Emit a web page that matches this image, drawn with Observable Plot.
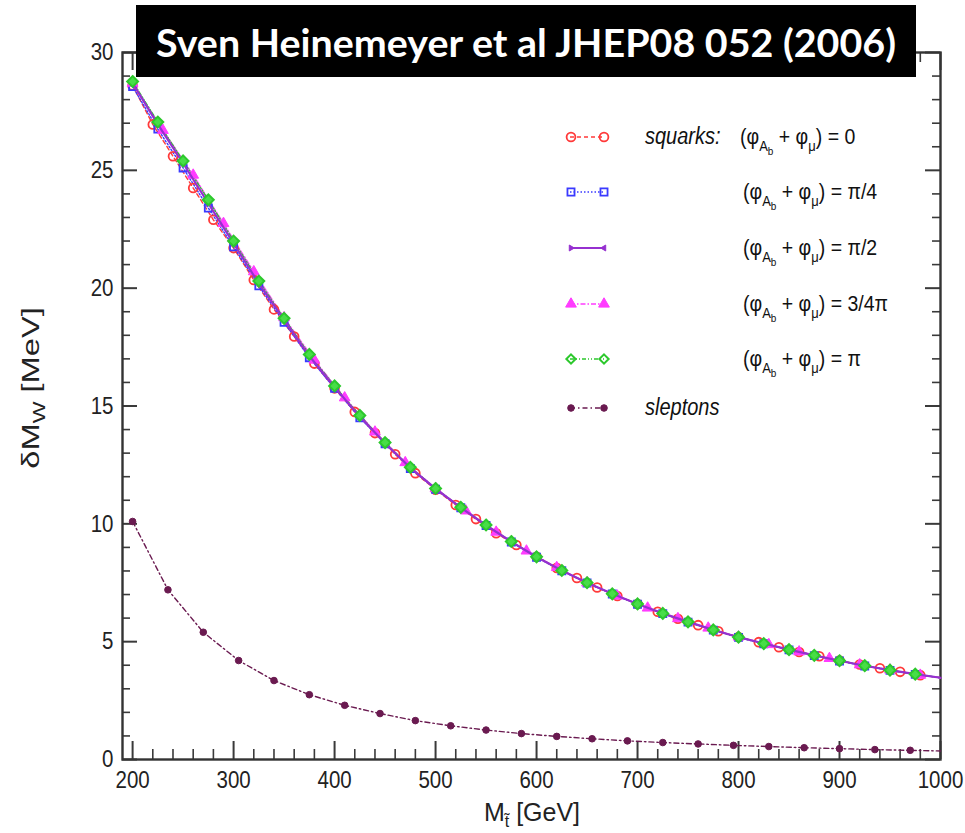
<!DOCTYPE html>
<html><head><meta charset="utf-8">
<script src="https://cdn.jsdelivr.net/npm/d3@7"></script>
<script src="https://cdn.jsdelivr.net/npm/@observablehq/plot@0.6"></script>
<style>
body{margin:0;background:#fff;}
#chart{position:relative;width:965px;height:833px;}
</style>
</head><body><div id="chart"></div>
<script>
// ---- tick labels ----
const xTicks = [200, 300, 400, 500, 600, 700, 800, 900, 1000];
const yTicks = [0, 5, 10, 15, 20, 25, 30];

// ---- squarks: (phiAb + phimu) = 0  (red circles) ----
const redX = [200,220,240,260,280,300,320,340,360,380,400,420,440,460,480,500,520,540,560,580,600,620,640,660,680,700,720,740,760,780,800,820,840,860,880,900,920,940,960,980];
const redY = [28.6,26.95,25.6,24.25,22.9,21.7,20.35,19.1,17.95,16.8,15.75,14.75,13.85,12.95,12.15,11.45,10.8,10.2,9.6,9.1,8.6,8.13,7.7,7.3,6.94,6.6,6.27,5.97,5.7,5.44,5.2,4.98,4.76,4.56,4.38,4.2,4.03,3.87,3.72,3.58];
// ---- pi/4 (blue squares) ----
const blueX = [200,225,250,275,300,325,350,375,400,425,450,475,500,525,550,575,600,625,650,675,700,725,750,775,800,825,850,875,900,925,950,975];
const blueY = [28.55,26.75,25.1,23.4,21.75,20.1,18.55,17.05,15.75,14.5,13.4,12.35,11.47,10.68,9.93,9.23,8.58,8.01,7.49,7.02,6.59,6.19,5.83,5.49,5.18,4.91,4.65,4.41,4.18,3.97,3.78,3.61];
// ---- pi/2 (purple, solid) ----
const purpleX = [200,225,250,275,300,325,350,375,400,425,450,475,500,525,550,575,600,625,650,675,700,725,750,775,800,825,850,875,900,925,950,975];
const purpleY = [28.7,26.95,25.3,23.6,21.9,20.2,18.65,17.12,15.8,14.55,13.42,12.38,11.49,10.69,9.94,9.24,8.59,8.02,7.5,7.03,6.6,6.2,5.84,5.5,5.19,4.92,4.66,4.42,4.19,3.98,3.79,3.62];
// ---- 3/4 pi (magenta triangles) ----
const magentaX = [200,230,260,290,320,350,380,410,440,470,500,530,560,590,620,650,680,710,740,770,800,830,860,890,920,950,980];
const magentaY = [28.7,26.7,24.8,22.75,20.7,18.75,16.95,15.35,13.9,12.6,11.5,10.55,9.65,8.85,8.15,7.5,6.94,6.43,5.98,5.58,5.2,4.88,4.57,4.29,4.02,3.8,3.58];
// ---- pi (green diamonds) ----
const greenX = [200,225,250,275,300,325,350,375,400,425,450,475,500,525,550,575,600,625,650,675,700,725,750,775,800,825,850,875,900,925,950,975];
const greenY = [28.77,27.05,25.4,23.75,22.0,20.3,18.72,17.19,15.85,14.6,13.45,12.4,11.5,10.7,9.95,9.25,8.6,8.02,7.5,7.03,6.6,6.2,5.84,5.5,5.19,4.92,4.66,4.42,4.19,3.98,3.79,3.62];
// ---- sleptons ----
const sleptonX = [200,235,270,305,340,375,410,445,480,515,550,585,620,655,690,725,760,795,830,865,900,935,970];
const sleptonY = [10.1,7.2,5.4,4.2,3.35,2.75,2.3,1.95,1.65,1.43,1.25,1.1,0.98,0.88,0.79,0.72,0.66,0.6,0.55,0.5,0.46,0.42,0.39];
// line end values at M = 1000
const lineEndX = 1000;
const squarkEndY = 3.47;
const sleptonEndY = 0.36;

const legendLabels = ["0", "\u03c0/4", "\u03c0/2", "3/4\u03c0", "\u03c0"];

const rows = (xs, ys) => xs.map((x, i) => ({x, y: ys[i]}));
const series = [
  {name:"0",   color:"#ff3a3a", dash:"4,3",        symbol:"circle",   r:4.4, fill:"none",    sw:1.4, msw:1.8, pts: rows(redX, redY),        end: squarkEndY},
  {name:"pi4", color:"#3a3aff", dash:"1.5,2",      symbol:"square",   r:4,   fill:"none",    sw:1.4, msw:1.8, pts: rows(blueX, blueY),      end: squarkEndY},
  {name:"pi2", color:"#9630d0", dash:null,         symbol:"triangle", r:2.2, fill:"#9630d0", sw:2.2, msw:1,   pts: rows(purpleX, purpleY),  end: squarkEndY},
  {name:"3pi4",color:"#ff3cff", dash:"5,2,1.5,2",  symbol:"triangle", r:4,   fill:"#ff3cff", sw:1.4, msw:1,   pts: rows(magentaX, magentaY),end: squarkEndY},
  {name:"pi",  color:"#2cc82c", dash:"4,2,1,2,1,2",symbol:"diamond2", r:4.9, fill:"#48dd48", sw:1.4, msw:2,   pts: rows(greenX, greenY),    end: squarkEndY},
  {name:"sl",  color:"#6a1a50", dash:"5,3,1.5,3",  symbol:"circle",   r:3.3, fill:"#6a1a50", sw:1.4, msw:1,   pts: rows(sleptonX, sleptonY),end: sleptonEndY}
];

const lineMark = s => Plot.line([...s.pts, {x: lineEndX, y: s.end}], {x:"x", y:"y", stroke:s.color, strokeWidth:s.sw, strokeDasharray:s.dash || undefined});
const dotMark = s => Plot.dot(s.pts, {x:"x", y:"y", symbol:s.symbol, r:s.r, stroke:s.color, fill:s.fill, strokeWidth:s.msw, rotate: s.name === "pi2" ? 90 : 0});

const W = 965, H = 833, mL = 122, mR = 25, mT = 52, mB = 74;
const innerW = W - mL - mR, innerH = H - mT - mB;
const xMinor = d3.range(200, 1001, 20).filter(v => v % 100 !== 0);
const yMinor = d3.range(0, 31, 1).filter(v => v % 5 !== 0);
const tickColor = "#3a3a3a";

const [sRed, sBlue, sPurple, sMag, sGreen, sSlep] = series;

const svg = Plot.plot({
  width: W, height: H,
  marginLeft: mL, marginRight: mR, marginTop: mT, marginBottom: mB,
  style: {fontFamily: "'Liberation Sans', Arial, sans-serif", background: "#fff", color: "#222"},
  x: {domain: [190, 1000], label: null},
  y: {domain: [0, 30], label: null},
  marks: [
    // inward ticks, all four sides
    Plot.tickX(xTicks, {x: d => d, insetTop: innerH - 18, stroke: tickColor, strokeWidth: 2}),
    Plot.tickX(xMinor, {x: d => d, insetTop: innerH - 10, stroke: tickColor, strokeWidth: 1.6}),
    Plot.tickX(xTicks, {x: d => d, insetBottom: innerH - 18, stroke: tickColor, strokeWidth: 2}),
    Plot.tickX(xMinor, {x: d => d, insetBottom: innerH - 10, stroke: tickColor, strokeWidth: 1.6}),
    Plot.tickY(yTicks, {y: d => d, insetRight: innerW - 15, stroke: tickColor, strokeWidth: 2}),
    Plot.tickY(yMinor, {y: d => d, insetRight: innerW - 8, stroke: tickColor, strokeWidth: 1.6}),
    Plot.tickY(yTicks, {y: d => d, insetLeft: innerW - 15, stroke: tickColor, strokeWidth: 2}),
    Plot.tickY(yMinor, {y: d => d, insetLeft: innerW - 8, stroke: tickColor, strokeWidth: 1.6}),
    Plot.frame({stroke: "#333", strokeWidth: 2.4}),
    Plot.axisX(xTicks, {tickSize: 0, tickPadding: 11, fontSize: 20.5, label: null, tickFormat: d => String(d)}),
    Plot.axisY(yTicks, {tickSize: 0, tickPadding: 9, fontSize: 20.5, label: null, tickFormat: d => String(d)}),
    // curves
    lineMark(sSlep), dotMark(sSlep),
    lineMark(sRed), lineMark(sBlue), lineMark(sMag), lineMark(sGreen),
    dotMark(sRed), dotMark(sBlue), dotMark(sMag),
    lineMark(sPurple), dotMark(sPurple),
    dotMark(sGreen)
  ]
});
document.getElementById("chart").appendChild(svg);

const S = d3.select(svg);
// stretch tick labels vertically a little (reference is vertically stretched)
S.selectAll('g[aria-label="x-axis tick label"] text, g[aria-label="y-axis tick label"] text').each(function() {
  const t = this.getAttribute("transform");
  if (t) this.setAttribute("transform", t + " scale(1,1.18)");
});

const fontMain = "'Liberation Sans', Arial, sans-serif";
// axis labels
const yl = S.append("text").attr("transform", "translate(39,388) rotate(-90) scale(1.36,1)")
  .attr("text-anchor", "middle").attr("font-family", fontMain).attr("font-size", 24).attr("fill", "#222");
yl.append("tspan").text("\u03b4M");
yl.append("tspan").attr("font-size", 17).attr("dy", 6).text("W");
yl.append("tspan").attr("dy", -6).text(" [MeV]");

const xl = S.append("text").attr("x", 532).attr("y", 821)
  .attr("text-anchor", "middle").attr("font-family", fontMain).attr("font-size", 25).attr("fill", "#222");
xl.append("tspan").text("M");
xl.append("tspan").attr("font-size", 16).attr("dy", 6).text("t\u0303");
xl.append("tspan").attr("dy", -6).text(" [GeV]");

// legend
const legY = [137, 192, 248, 304, 359, 408];
const lg = S.append("g").attr("font-family", fontMain).attr("fill", "#111").attr("text-anchor", "start");
const symMap = {circle: d3.symbolCircle, square: d3.symbolSquare, triangle: d3.symbolTriangle, diamond2: d3.symbolDiamond2};
series.forEach((s, i) => {
  const y = legY[i];
  lg.append("line").attr("x1", 570).attr("x2", 605).attr("y1", y).attr("y2", y)
    .attr("stroke", s.color).attr("stroke-width", s.sw).attr("stroke-dasharray", s.dash || null);
  [571, 604].forEach((x, j) => {
    const rot = s.name === "pi2" ? (j === 0 ? 90 : -90) : 0;
    const rr = s.name === "pi" ? 4.2 : s.r;
    lg.append("path").attr("d", d3.symbol(symMap[s.symbol], Math.PI * rr * rr)())
      .attr("transform", `translate(${x},${y}) rotate(${rot})`)
      .attr("fill", s.name === "pi" ? "none" : s.fill).attr("stroke", s.color).attr("stroke-width", s.msw);
  });
});
const legText = (x, y) => lg.append("text").attr("transform", `translate(${x},${y}) scale(1,1.15)`);
legText(645, legY[0] + 7).attr("font-size", 20).attr("font-style", "italic").text("squarks:");
legText(645, legY[5] + 7).attr("font-size", 20).attr("font-style", "italic").text("sleptons");
legendLabels.forEach((lab, i) => {
  const t = legText(i === 0 ? 740 : 743, legY[i] + 7).attr("font-size", 19.5);
  t.append("tspan").text("(\u03c6");
  t.append("tspan").attr("font-size", 13).attr("dy", 6).text("A");
  t.append("tspan").attr("font-size", 10).attr("dy", 4).text("b");
  t.append("tspan").attr("dy", -10).text(" + \u03c6");
  t.append("tspan").attr("font-size", 13).attr("dy", 6).text("\u03bc");
  t.append("tspan").attr("dy", -6).text(") = " + lab);
});

// title banner
S.append("rect").attr("x", 136).attr("y", 5).attr("width", 780).attr("height", 72).attr("fill", "#000");
S.append("text").attr("x", 526).attr("y", 57).attr("text-anchor", "middle")
  .attr("font-family", "Lato, 'Open Sans', sans-serif").attr("font-weight", 700).attr("font-size", 39)
  .attr("fill", "#fff").attr("textLength", 740).attr("lengthAdjust", "spacingAndGlyphs")
  .text("Sven Heinemeyer et al JHEP08 052 (2006)");
</script>
</body></html>
